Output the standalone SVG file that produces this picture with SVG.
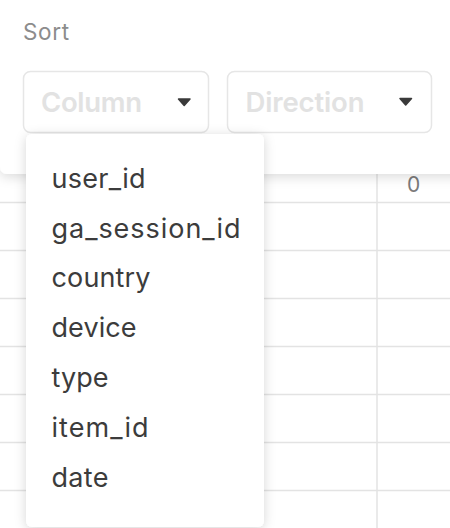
<svg xmlns="http://www.w3.org/2000/svg" width="450" height="528" viewBox="0 0 450 528">
  <style>
    .grid { stroke: #e3e3e3; stroke-width: 1.5; fill: none; }
    .item { font-family: Inter, "Liberation Sans", sans-serif; font-size: 27px; fill: #3c3c3c; }
    .ph { font-family: Inter, "Liberation Sans", sans-serif; font-size: 27.5px; font-weight: 600; fill: #e2e2e2; }
    .box { fill: #ffffff; stroke: #e6e6e6; stroke-width: 1.5; }
    .caret { fill: #3a3a3a; stroke: #3a3a3a; stroke-width: 1.5; stroke-linejoin: round; }
  </style>
  <defs>
    <filter id="panelShadow" x="-10%" y="-10%" width="120%" height="130%">
      <feDropShadow dx="0" dy="3" stdDeviation="6" flood-color="#000" flood-opacity="0.14"/>
    </filter>
    <filter id="menuShadow" x="-20%" y="-10%" width="140%" height="130%">
      <feDropShadow dx="0" dy="2" stdDeviation="6" flood-color="#000" flood-opacity="0.16"/>
    </filter>
  </defs>
  <rect width="450" height="528" fill="#ffffff"/>
  <g id="table">
    <line class="grid" x1="0" y1="202.5" x2="450" y2="202.5"/>
    <line class="grid" x1="0" y1="250.5" x2="450" y2="250.5"/>
    <line class="grid" x1="0" y1="298.5" x2="450" y2="298.5"/>
    <line class="grid" x1="0" y1="346.5" x2="450" y2="346.5"/>
    <line class="grid" x1="0" y1="394.5" x2="450" y2="394.5"/>
    <line class="grid" x1="0" y1="442.5" x2="450" y2="442.5"/>
    <line class="grid" x1="0" y1="490.5" x2="450" y2="490.5"/>
    <line class="grid" x1="377" y1="170" x2="377" y2="528"/>
    <text x="413.5" y="192" text-anchor="middle" font-family="Inter, 'Liberation Sans', sans-serif" font-size="21" fill="#7a7a7a">0</text>
  </g>
  <g id="sort-panel">
    <rect x="0" y="-20" width="480" height="194" rx="7" fill="#ffffff" filter="url(#panelShadow)"/>
    <text x="23" y="40" font-family="Inter, 'Liberation Sans', sans-serif" font-size="22.5" fill="#8c8c8c" textLength="46" lengthAdjust="spacing">Sort</text>
  </g>
  <g id="column-select">
    <rect class="box" x="23.5" y="71.5" width="185" height="61" rx="7"/>
    <text class="ph" x="41" y="112" textLength="101" lengthAdjust="spacing">Column</text>
    <path class="caret" d="M178.5 99 L190 99 L184.2 105.5 Z"/>
  </g>
  <g id="direction-select">
    <rect class="box" x="227.5" y="71.5" width="204" height="61" rx="7"/>
    <text class="ph" x="245.5" y="112" textLength="119" lengthAdjust="spacing">Direction</text>
    <path class="caret" d="M400 98.5 L411.5 98.5 L405.7 105 Z"/>
  </g>
  <g id="column-menu">
    <rect x="26" y="134" width="238" height="393" rx="6" fill="#ffffff" filter="url(#menuShadow)"/>
    <text class="item" x="51.5" y="188" textLength="94" lengthAdjust="spacing">user_id</text>
    <text class="item" x="51.5" y="237.5" textLength="189" lengthAdjust="spacing">ga_session_id</text>
    <text class="item" x="51.5" y="287" textLength="99" lengthAdjust="spacing">country</text>
    <text class="item" x="51.5" y="337" textLength="85" lengthAdjust="spacing">device</text>
    <text class="item" x="51.5" y="387" textLength="57" lengthAdjust="spacing">type</text>
    <text class="item" x="51.5" y="437" textLength="97" lengthAdjust="spacing">item_id</text>
    <text class="item" x="51.5" y="487" textLength="57" lengthAdjust="spacing">date</text>
  </g>
</svg>
